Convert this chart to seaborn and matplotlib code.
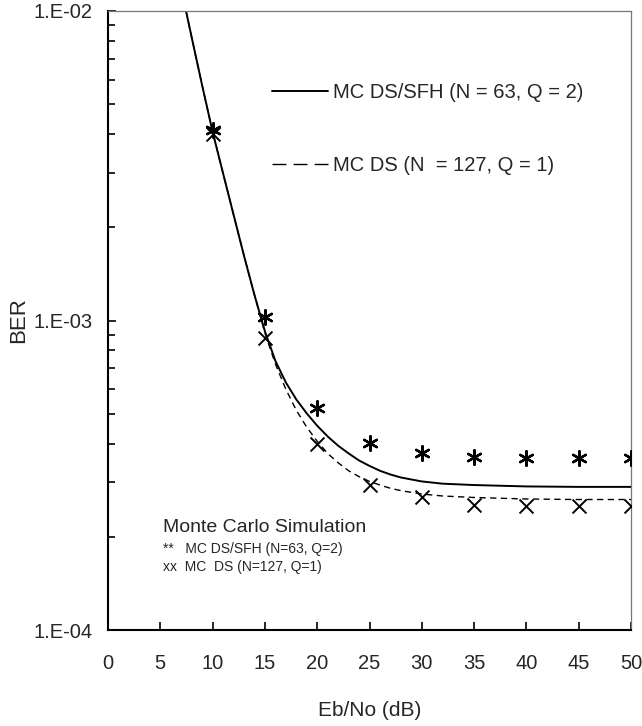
import numpy as np
import pandas as pd
import matplotlib
matplotlib.use("Agg")
import matplotlib.pyplot as plt
import seaborn as sns
from matplotlib.lines import Line2D
from matplotlib.ticker import LogLocator, NullFormatter, FixedLocator

# ---------------- data ----------------
sfh_curve_x = [7.46, 8, 9, 10, 11, 12, 13, 14, 15, 16, 17, 18, 19, 20, 21, 22, 23, 24, 25, 26, 27, 28,
               30, 32, 35, 40, 45, 50]
sfh_curve_y = [1.0e-2, 8.22e-3, 5.75e-3, 4.07e-3, 2.99e-3, 2.20e-3, 1.62e-3, 1.21e-3, 9.23e-4, 7.41e-4,
               6.31e-4, 5.56e-4, 5.01e-4, 4.57e-4, 4.22e-4, 3.94e-4, 3.72e-4, 3.53e-4, 3.39e-4, 3.27e-4,
               3.18e-4, 3.11e-4, 3.02e-4, 2.97e-4, 2.94e-4, 2.91e-4, 2.90e-4, 2.90e-4]

ds_curve_x = [7.46, 8, 9, 10, 11, 12, 13, 14, 15, 16, 17, 18, 19, 20, 21, 22, 23, 24, 25, 26, 27, 28,
              30, 32, 35, 40, 45, 50]
ds_curve_y = [1.0e-2, 8.22e-3, 5.75e-3, 4.07e-3, 2.99e-3, 2.20e-3, 1.62e-3, 1.21e-3, 9.12e-4, 7.24e-4,
              6.00e-4, 5.13e-4, 4.52e-4, 4.07e-4, 3.72e-4, 3.47e-4, 3.27e-4, 3.13e-4, 3.02e-4, 2.94e-4,
              2.87e-4, 2.82e-4, 2.75e-4, 2.71e-4, 2.68e-4, 2.65e-4, 2.64e-4, 2.64e-4]

sim_x = [10, 15, 20, 25, 30, 35, 40, 45, 50]
sim_sfh_y = [4.14e-3, 1.03e-3, 5.2e-4, 4.03e-4, 3.73e-4, 3.61e-4, 3.59e-4, 3.59e-4, 3.59e-4]
sim_ds_y = [4.0e-3, 8.8e-4, 3.99e-4, 2.94e-4, 2.68e-4, 2.54e-4, 2.51e-4, 2.51e-4, 2.51e-4]

x_ticks = [0, 5, 10, 15, 20, 25, 30, 35, 40, 45, 50]
y_ticks = [1e-4, 1e-3, 1e-2]
y_tick_labels = ["1.E-04", "1.E-03", "1.E-02"]

label_sfh = "MC DS/SFH (N = 63, Q = 2)"
label_ds = "MC DS (N  = 127, Q = 1)"

# ---------------- style ----------------
sns.set_style("ticks")
plt.rcParams["font.family"] = ["Liberation Sans", "DejaVu Sans"]

fig = plt.figure(figsize=(6.42, 7.26), dpi=100)
ax = fig.add_axes([108 / 642, 1 - 630 / 726, (631 - 108) / 642, (630 - 11) / 726])

dash_plot = (0, (4.5, 3.2))
dash_leg = (0, (10, 5.2))

df_sfh = pd.DataFrame({"x": sfh_curve_x, "y": sfh_curve_y})
df_ds = pd.DataFrame({"x": ds_curve_x, "y": ds_curve_y})
sns.lineplot(data=df_ds, x="x", y="y", ax=ax, color="black", lw=1.0, sort=False, legend=False,
             linestyle=dash_plot)
sns.lineplot(data=df_sfh, x="x", y="y", ax=ax, color="black", lw=1.4, sort=False, legend=False)

df_sim = pd.DataFrame({"x": sim_x, "sfh": sim_sfh_y, "ds": sim_ds_y})
sns.scatterplot(data=df_sim, x="x", y="sfh", ax=ax, marker=(6, 2, 0), s=110, color="black",
                linewidth=1.7, legend=False, zorder=5)
sns.scatterplot(data=df_sim, x="x", y="ds", ax=ax, marker="x", s=100, color="black",
                linewidth=1.4, legend=False, zorder=5)

ax.set_yscale("log")
ax.set_xlim(0, 50)
ax.set_ylim(1e-4, 1e-2)
ax.set_xticks(x_ticks)
ax.set_xticklabels([str(v) for v in x_ticks])
ax.yaxis.set_major_locator(FixedLocator(y_ticks))
ax.set_yticklabels(y_tick_labels)
ax.yaxis.set_minor_locator(LogLocator(base=10, subs=np.arange(2, 10)))
ax.yaxis.set_minor_formatter(NullFormatter())

ax.tick_params(axis="both", which="both", direction="in", color="black", width=1.2,
               labelsize=14.5, top=False, right=False)
ax.tick_params(axis="x", which="major", length=6, pad=17)
ax.tick_params(axis="y", which="major", length=6, pad=11)
ax.tick_params(axis="y", which="minor", length=5)

for s in ["left", "bottom"]:
    ax.spines[s].set_color("black")
    ax.spines[s].set_linewidth(1.5)
for s in ["top", "right"]:
    ax.spines[s].set_color("#777777")
    ax.spines[s].set_linewidth(0.9)
    ax.spines[s].set_linestyle((0, (1, 1)))

ax.set_xlabel("Eb/No (dB)", fontsize=15)
ax.set_ylabel("BER", fontsize=16)
ax.xaxis.set_label_coords(0.5, (630 - 701) / 619)
ax.yaxis.set_label_coords((29 - 108) / 523, 0.5)

handles = [Line2D([], [], color="black", lw=1.4),
           Line2D([], [], color="black", lw=1.0, linestyle=dash_leg)]
leg = ax.legend(handles, [label_sfh, label_ds], loc="upper left",
                bbox_to_anchor=((272 - 108) / 523, 1 - (83 - 11) / 619),
                frameon=False, fontsize=14.5, handlelength=2.8, handletextpad=0.25,
                labelspacing=2.7, borderaxespad=0, borderpad=0)

ax.text((163 - 108) / 523, 1 - (528 - 11) / 619, "Monte Carlo Simulation", transform=ax.transAxes,
        fontsize=14, va="center", ha="left")
ax.text((163 - 108) / 523, 1 - (549 - 11) / 619, "**   MC DS/SFH (N=63, Q=2)", transform=ax.transAxes,
        fontsize=10, va="center", ha="left")
ax.text((163 - 108) / 523, 1 - (567 - 11) / 619, "xx  MC  DS (N=127, Q=1)", transform=ax.transAxes,
        fontsize=10, va="center", ha="left")

fig.savefig("out.png", dpi=100)
